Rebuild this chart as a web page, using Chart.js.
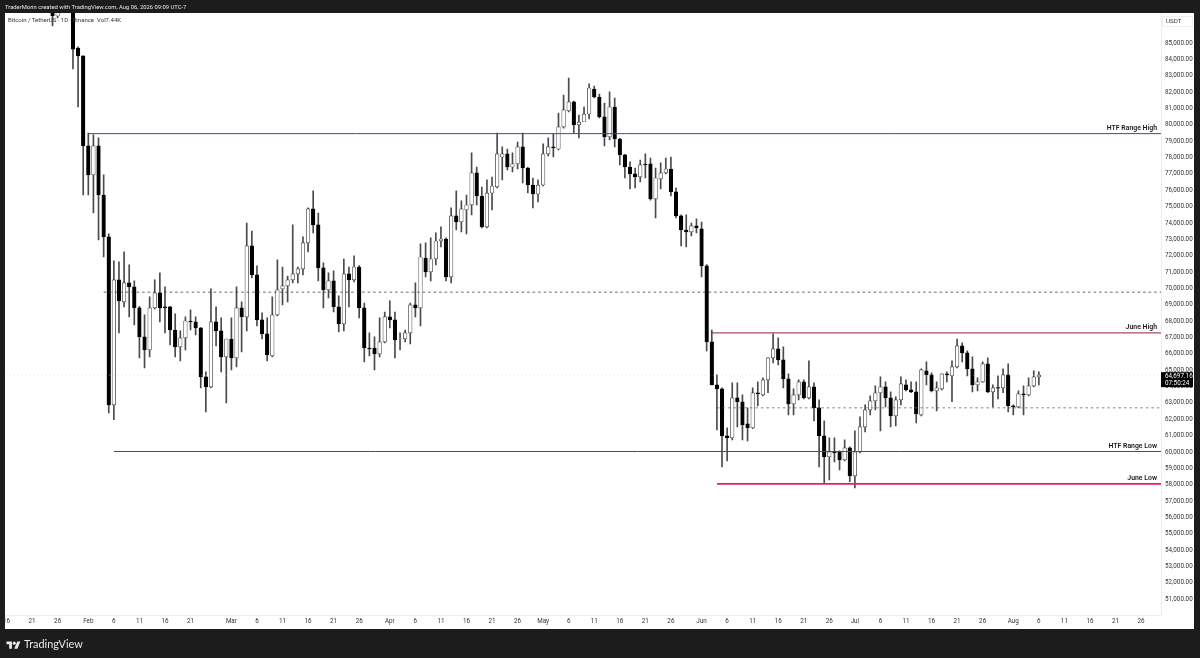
<!DOCTYPE html>
<html><head><meta charset="utf-8">
<script src="https://cdn.jsdelivr.net/npm/chart.js@4"></script>
<style>
html,body{margin:0;padding:0;background:#1c1c1c;width:1200px;height:658px;overflow:hidden}
canvas{position:absolute;left:0;top:0}
.t{position:absolute;white-space:nowrap;font-family:Roboto,sans-serif}
</style></head><body>
<canvas id="c" width="1200" height="658"></canvas>
<div class="t" style="left:5px;top:3px;font-size:5.85px;line-height:8px;color:#e8e8e8">TraderMorin created with TradingView.com, Aug 06, 2026 09:09 UTC-7</div>
<div class="t" style="left:8px;top:16px;font-size:6px;line-height:8px;color:#333">Bitcoin / TetherUS · 1D · Binance &nbsp;Vol7.44K</div>
<div class="t" style="left:1162px;top:16px;width:31px;height:11px;box-sizing:border-box;border:1px solid #f0f0f0;font-size:6.2px;line-height:9px;color:#333;padding-left:3px">USDT</div>
<svg style="position:absolute;left:6px;top:640px" width="15" height="11" viewBox="0 0 36 28"><path fill="#e8e8e8" d="M14 22H7V11H0V4h14v18zM28 22h-8l7.5-18h8L28 22z"/><circle fill="#e8e8e8" cx="20" cy="8" r="4"/></svg>
<div class="t" style="left:24px;top:636px;font-size:10.9px;line-height:16px;font-family:Lato,sans-serif;color:#e8e8e8">TradingView</div>
<script>
const firstDay = -7;
const opens = [87320,86650,88000,88400,88900,84690,84210,78710,76940,78710,
75710,73150,62880,70520,69180,70340,70090,68810,67040,66240,
68810,69730,68870,68870,67460,66430,66980,68010,67950,67590,
64590,63980,67950,67400,65810,66910,65750,68810,68260,72600,
70830,68080,67220,65880,68380,69970,70150,70520,70890,71190,
72780,74860,73880,71250,69910,70460,68870,67830,70890,70520,
71310,68810,66360,66360,66000,66730,68260,68080,66910,66910,
67280,68990,68810,71860,71010,71800,72900,73020,70700,74430,
74060,74800,75100,77060,75650,73760,75830,76200,78030,78220,
77420,77610,78650,77360,76320,75770,76320,78220,78650,78520,
79870,80850,81400,79990,80170,80660,82190,81700,80480,79260,
81090,79130,78160,77420,77000,76810,77600,77610,75470,76690,
77060,77300,75900,74430,73570,73450,73820,73640,71380,66730,
64100,63860,60990,60870,63310,63070,61720,61480,63620,63490,
64410,65750,66300,65630,64470,62940,63490,64290,63310,63980,
62700,60990,59710,60010,60010,59520,60250,58540,60010,61540,
62580,63130,63620,63980,63310,62210,63190,64100,63800,63680,
62270,64960,64710,63740,63860,64780,64650,65200,66490,66060,
65080,64100,64290,65390,63680,63940,63920,64710,62820,62760,
63550,63490,64040,64590];
const highs = [87400,87500,88700,89200,89100,84760,84210,79500,79380,79200,
76940,73330,71680,71620,72230,71440,70460,68900,68380,69480,
70520,70950,70090,68900,68440,67400,68260,68690,68260,67600,
64900,69970,68870,68200,66910,68200,70090,69180,74000,73510,
71380,68500,68200,69480,71740,71310,70760,73880,71310,73150,
74920,75960,74610,71560,70950,71070,69540,71800,71310,71990,
71400,69110,67280,67040,68200,68560,69240,68560,67280,67460,
69110,70340,72720,72780,73090,73390,73760,73090,74920,75960,
75350,75710,78280,77420,76200,76630,76810,79500,78650,78520,
78280,78950,79500,77400,76750,76630,78830,79200,79440,80720,
81820,82860,81450,80600,81090,82500,82370,81880,81330,82010,
81640,79180,78200,77730,77360,77850,78220,77970,77360,77670,
77970,78030,76140,74500,74490,74000,74250,74060,71450,67460,
64710,63920,61480,64230,64230,63490,62700,63920,64290,64530,
65750,67220,66980,66430,64780,63860,64410,64410,65570,64230,
63190,61900,60870,60870,60070,60740,60320,61290,62150,62880,
63430,64040,64590,64290,63680,63370,64590,64410,64290,64290,
65080,65510,64840,64290,64780,64900,65570,66910,66670,66180,
65810,64530,65510,65750,64100,64650,65080,65390,62880,63740,
64040,64530,64960,64900];
const lows = [86040,86530,87100,87900,83410,81090,75710,75710,74610,72960,
71920,62390,61970,67280,68870,68260,67770,65750,65140,65810,
68750,67950,67280,66550,65810,65570,66240,67460,67160,63920,
62450,63920,66490,64900,63000,65020,65200,66120,67400,70640,
67710,66910,65570,65810,68320,68990,69180,70340,70340,70830,
72230,73390,70460,68810,69420,68560,67340,67400,68870,70400,
68200,65510,65880,65020,65810,66670,67590,65750,66240,66730,
66610,68260,67710,70700,70460,71440,72540,70460,70340,73570,
73450,73330,74490,75100,73700,73700,74800,76140,76630,77240,
77120,77300,76450,75830,74920,75290,76260,78100,78030,78460,
79800,80780,79500,79200,80300,80360,81650,80420,78710,79070,
78650,77550,76750,76080,76140,76510,76750,75400,74310,76080,
77000,75650,74310,72600,72540,73210,73390,70700,66180,64100,
61350,59090,59460,60740,61540,60740,60680,61420,62820,63430,
63620,65450,65330,63920,62270,62270,63190,63250,63250,61900,
59090,58060,58300,59400,58910,59460,58180,57810,59950,61230,
62270,62580,61290,62760,61540,61600,62880,63740,63620,61780,
62210,64100,63680,62510,63800,64290,63070,65140,65510,64650,
63680,63740,64250,63620,62760,63250,63620,62450,62270,62700,
62270,63430,63980,64100];
const closes = [86650,87020,88400,88900,84630,84210,78710,76940,78710,75710,
73150,62880,70520,69240,70340,70090,68810,67040,66240,68810,
69730,68810,68810,67460,66430,66980,68010,67950,67590,64590,
63980,67950,67400,65810,66910,65750,68810,68260,72600,70830,
68080,67220,65940,68380,69910,70150,70520,70890,71190,72780,
74860,73880,71250,69910,70460,68870,67830,70890,70520,71310,
68810,66360,66300,66000,66730,68260,68080,66850,66920,67280,
68990,68810,71920,71010,71800,72900,73020,70700,74430,74060,
74860,75100,77060,75650,73760,75830,76260,78220,78220,77420,
77610,78650,77360,76320,75770,76320,78220,78650,78580,79870,
80910,81400,79990,80170,80660,82250,81700,80480,79260,81090,
79130,78160,77420,77000,76810,77550,77550,75470,76750,77060,
77300,75900,74430,73570,73450,73820,73700,71380,66730,64100,
63860,60990,60870,63310,63070,61660,61480,63620,63550,64410,
65750,66300,65630,64470,62940,63490,64290,63310,63980,62700,
60990,59710,60010,59950,59520,60250,58540,60010,61540,62580,
63130,63620,63980,63310,62210,63190,64170,63800,63680,62330,
65020,64710,63740,63920,64780,64710,65200,66490,66060,65080,
64100,64290,65390,63680,63920,63900,64710,62820,62760,63550,
63490,64040,64590,64697.16];
const tickDays = [-16,-11,-6,0,5,10,15,20,28,33,38,43,48,53,59,64,69,74,79,84,89,94,99,104,109,114,120,125,130,135,140,145,150,155,160,165,170,175,181,186,191,196,201,206];
const tickLabels = ['16','21','26','Feb','6','11','16','21','Mar','6','11','16','21','26','Apr','6','11','16','21','26','May','6','11','16','21','26','Jun','6','11','16','21','26','Jul','6','11','16','21','26','Aug','6','11','16','21','26'];
const priceTicks = [51000,52000,53000,54000,55000,56000,57000,58000,59000,60000,61000,62000,63000,64000,65000,66000,67000,68000,69000,70000,71000,72000,73000,74000,75000,76000,77000,78000,79000,80000,81000,82000,83000,84000,85000];
const levelNames = ['HTF Range High','June High','HTF Range Low','June Low'];
const levelPrices = [79460,67280,60030,58055];
const levelStarts = [0,122,5,123];
const levelColors = ['#2b4fa8','#8f1c42','#2b4fa8','#e91e63'];
const levelWidths = [1,1,1,1.6];
const dashPrices = [69770,62700];
const dashStarts = [3,123];
const lastPrice = 64697.16;
const countdown = '07:50:24';
const xMin = -16.23, xMax = 209.9, yMin = 50037, yMax = 86834;

const days = opens.map((_, i) => firstDay + i);
const fmt = v => v.toLocaleString('en-US', {minimumFractionDigits: 2, maximumFractionDigits: 2});
const seg = (a, p) => [{x: a, y: p}, {x: xMax, y: p}];
const lineBase = {type: 'line', pointRadius: 0, borderCapStyle: 'butt', tension: 0, order: 1};

const datasets = [
  {type: 'bar', label: 'Wick', grouped: false, order: 3, barThickness: 1,
   backgroundColor: '#4a4a4a', borderWidth: 0, borderSkipped: false,
   data: days.map((d, i) => ({x: d, y: [lows[i], highs[i]]}))},
  {type: 'bar', label: 'Body', grouped: false, order: 2, barThickness: 3.6,
   backgroundColor: days.map((_, i) => closes[i] >= opens[i] ? '#ffffff' : '#000000'),
   borderColor: days.map((_, i) => closes[i] >= opens[i] ? '#3a3a3a' : '#000000'),
   borderWidth: 0.7, borderSkipped: false,
   data: days.map((d, i) => ({x: d, y: [opens[i], closes[i]]}))},
  Object.assign({}, lineBase, {label: 'Last', borderColor: '#d0d0d0', borderWidth: 0.6, borderDash: [1, 3],
   data: seg(xMin, lastPrice)})
];
dashPrices.forEach((p, i) => datasets.push(Object.assign({}, lineBase, {label: 'Dash' + i,
  borderColor: i ? '#666666' : '#3c3c3c', borderWidth: 0.8, borderDash: [2.5, 3], data: seg(dashStarts[i], p)})));
levelPrices.forEach((p, i) => datasets.push(Object.assign({}, lineBase, {label: levelNames[i],
  borderColor: levelColors[i], borderWidth: levelWidths[i], data: seg(levelStarts[i], p)})));

const frame = {id: 'frame',
  beforeDraw(ch) {
    const c = ch.ctx;
    c.save(); c.fillStyle = '#ffffff'; c.fillRect(5, 13, 1189, 616); c.restore();
  },
  afterDraw(ch) {
    const c = ch.ctx, y = ch.scales.y, a = ch.chartArea;
    c.save();
    c.font = '600 6.9px Roboto, sans-serif'; c.fillStyle = '#1a1a1a';
    c.textAlign = 'right'; c.textBaseline = 'alphabetic';
    levelNames.forEach((n, i) => c.fillText(n, a.right - 4, y.getPixelForValue(levelPrices[i]) - 4));
    const py = y.getPixelForValue(lastPrice);
    c.fillStyle = '#000000'; c.fillRect(a.right, py - 3, 32, 15);
    c.fillStyle = '#ffffff'; c.textAlign = 'left'; c.textBaseline = 'middle';
    c.font = '6.3px Roboto, sans-serif';
    c.fillText(fmt(lastPrice), a.right + 4, py + 1);
    c.fillText(countdown, a.right + 4, py + 8);
    c.restore();
  }};

new Chart(document.getElementById('c'), {
  data: {datasets},
  plugins: [frame],
  options: {
    responsive: false, animation: false, devicePixelRatio: 1,
    layout: {padding: {left: 5, right: 6, top: 13, bottom: 29}},
    plugins: {legend: {display: false}, title: {display: false}, tooltip: {enabled: false}},
    scales: {
      x: {type: 'linear', min: xMin, max: xMax, offset: false,
        grid: {display: false, drawTicks: false}, border: {color: '#eeeeee'},
        afterBuildTicks: s => { s.ticks = tickDays.map(value => ({value})); },
        afterFit: s => { s.height = 14; },
        ticks: {autoSkip: false, maxRotation: 0, minRotation: 0, padding: 3, color: '#333333',
          font: {family: 'Roboto', size: 6.3},
          callback: v => tickLabels[tickDays.indexOf(v)]}},
      y: {type: 'linear', position: 'right', min: yMin, max: yMax,
        grid: {display: false, drawTicks: false}, border: {color: '#eeeeee'},
        afterBuildTicks: s => { s.ticks = priceTicks.map(value => ({value})); },
        afterFit: s => { s.width = 33; },
        ticks: {autoSkip: false, padding: 4, color: '#333333', align: 'center',
          font: {family: 'Roboto', size: 6.3}, callback: v => fmt(v)}}
    }
  }
});
</script>
</body></html>
